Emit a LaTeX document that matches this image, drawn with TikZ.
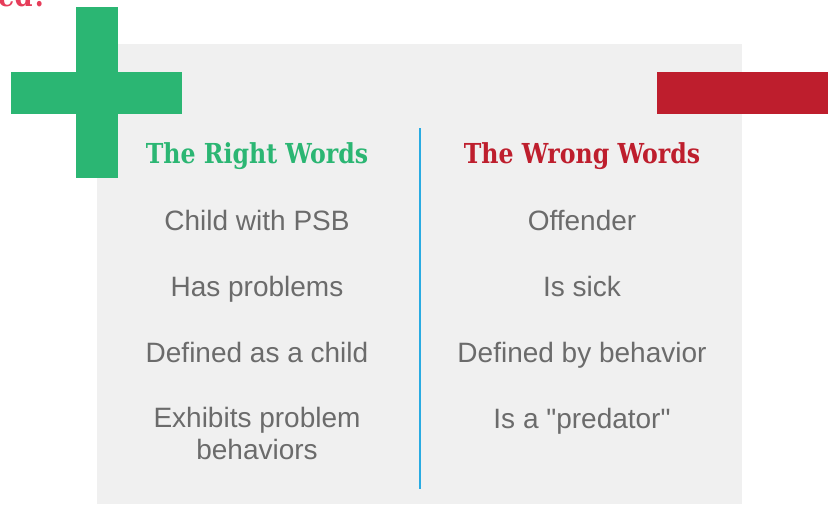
\documentclass[tikz,border=0pt]{standalone}
\usepackage{fontspec}
\setmainfont{Liberation Sans}
\newfontfamily\slabfont[FakeStretch=0.86]{DejaVu Serif}
\usepackage{xcolor}
\usepackage{tikz}
\usetikzlibrary{positioning, calc}

\definecolor{PlusGreen}{HTML}{2BB673}
\definecolor{MinusRed}{HTML}{BE1E2D}
\definecolor{TitleRed}{HTML}{E63D5A}
\definecolor{CardGray}{HTML}{F0F0F0}
\definecolor{WordGray}{HTML}{6B6B6B}
\definecolor{RuleBlue}{HTML}{29ABE2}

\begin{document}
\begin{tikzpicture}[x=1pt, y=-1pt,
					HeadText/.style={anchor=base, inner sep=0pt, font=\slabfont\bfseries\fontsize{27.5}{32}\selectfont},
					WordText/.style={anchor=base, inner sep=0pt, text=WordGray, font=\fontsize{28}{32}\selectfont, align=center}]

				\useasboundingbox (0,0) rectangle (836,504);

				% card and the two signs
				\fill[CardGray] (97,44) rectangle (742,504);
				\fill[PlusGreen] (76,7) rectangle (118,178);
				\fill[PlusGreen] (11,72) rectangle (182,114);
				\fill[MinusRed] (657,72) rectangle (828,114);

				\node[anchor=base east, inner sep=0pt, text=TitleRed, font=\slabfont\bfseries\fontsize{30}{34}\selectfont] (Title) at (48,6) {ed?};

				\node[HeadText, text=PlusGreen] (RightHead) at (257,163) {The Right Words};
				\node[HeadText, text=MinusRed] (WrongHead) at (582,163) {The Wrong Words};

				\coordinate (RuleTop) at (420,128);
				\coordinate (RuleBot) at (420,489);
				\draw[RuleBlue, line width=2.5pt] (RuleTop) -- (RuleBot);

				\node[WordText] (RightA) at ($(RightHead.base) + (0,67)$) {Child with PSB};
				\node[WordText] (RightB) at ($(RightA.base) + (0,66)$) {Has problems};
				\node[WordText] (RightC) at ($(RightB.base) + (0,66)$) {Defined as a child};
				\node[WordText, anchor=north] (RightD) at ($(RightC.base) + (0,45)$) {Exhibits problem\\behaviors};

				\node[WordText] (WrongA) at ($(WrongHead.base) + (0,67)$) {Offender};
				\node[WordText] (WrongB) at ($(WrongA.base) + (0,66)$) {Is sick};
				\node[WordText] (WrongC) at ($(WrongB.base) + (0,66)$) {Defined by behavior};
				\node[WordText] (WrongD) at ($(WrongC.base) + (0,66)$) {Is a \textquotedbl predator\textquotedbl};
			\end{tikzpicture}
\end{document}
